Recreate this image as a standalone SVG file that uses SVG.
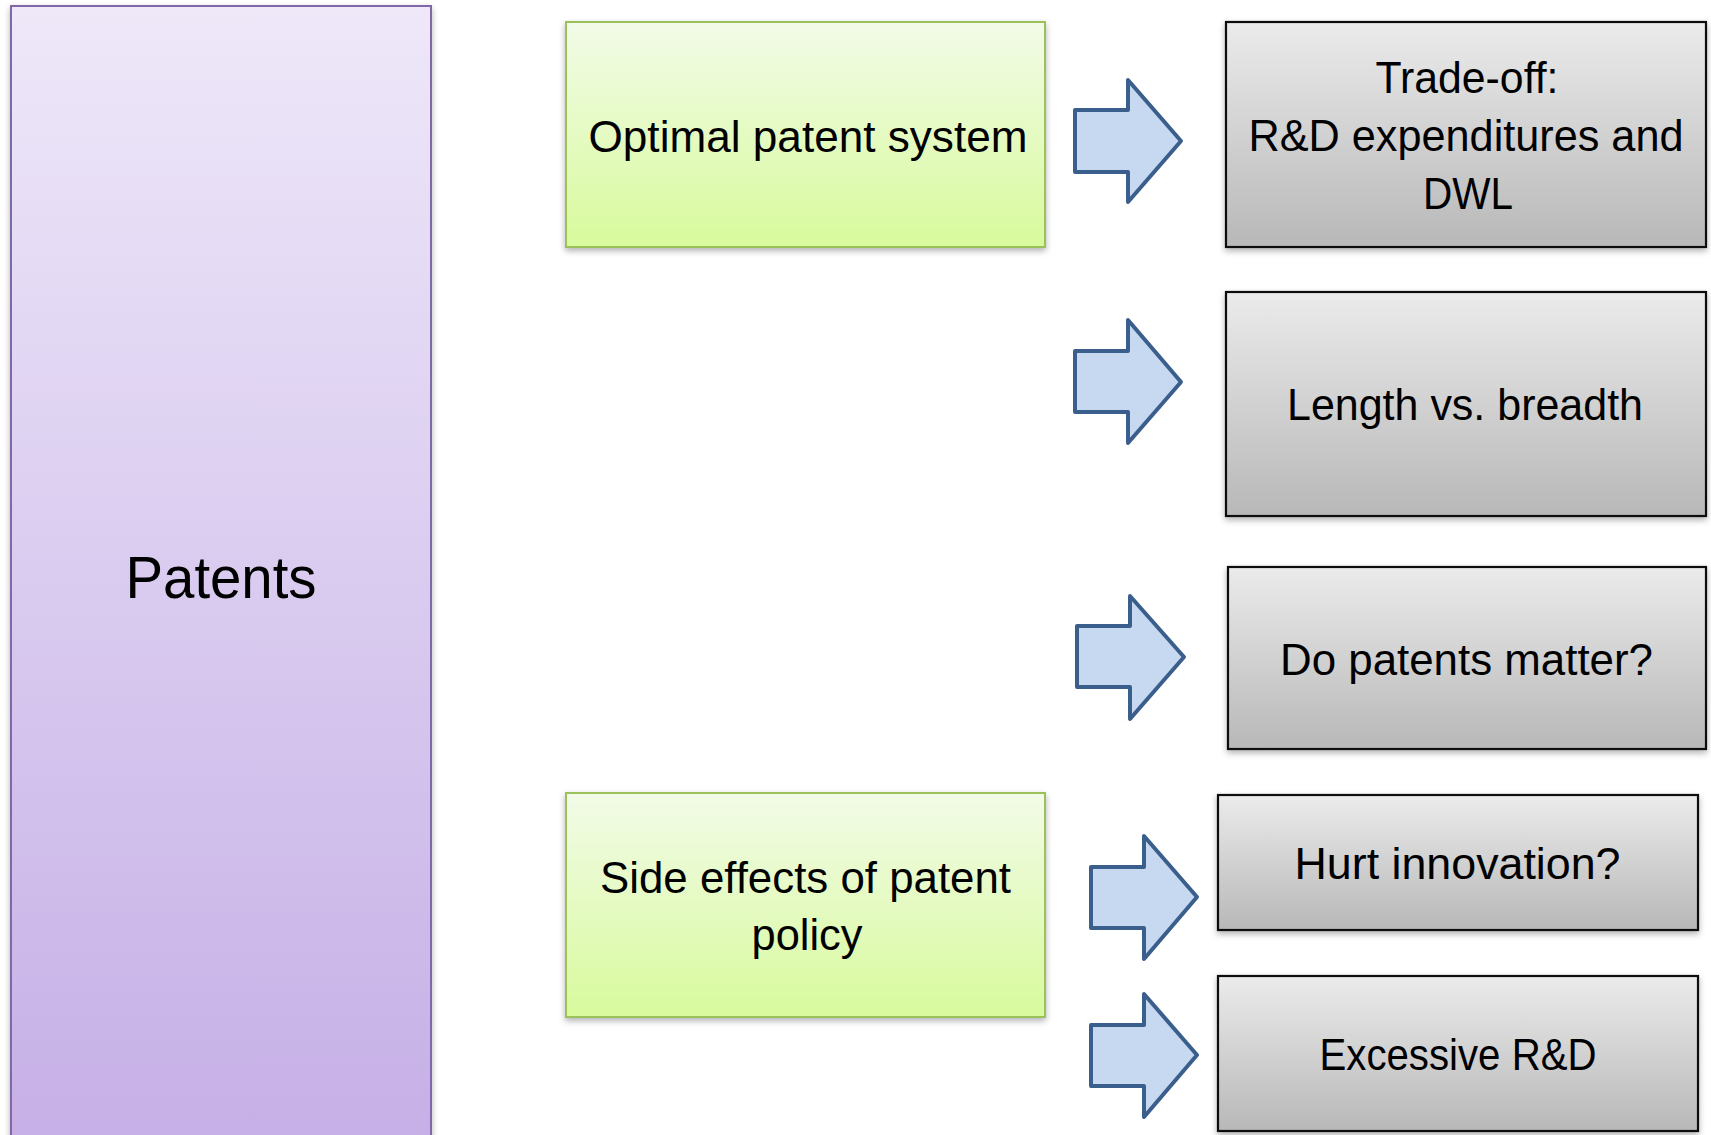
<svg xmlns="http://www.w3.org/2000/svg" width="1711" height="1135" viewBox="0 0 1711 1135">
<style>
text{font-family:"Liberation Sans",Arial,sans-serif;fill:#000;text-anchor:middle}
.t{font-size:45px}
.green{fill:url(#gG);stroke:#9BC25A;stroke-width:2}
.gray{fill:url(#gK);stroke:#111;stroke-width:2.2}
.arrow{fill:#C6D9F1;stroke:#3B5F8C;stroke-width:4;stroke-linejoin:round}
</style>
<defs>
<linearGradient id="gP" x1="0" y1="0" x2="0" y2="1"><stop offset="0" stop-color="#EEE8F9"/><stop offset="1" stop-color="#C5AEE6"/></linearGradient>
<linearGradient id="gG" x1="0" y1="0" x2="0" y2="1"><stop offset="0" stop-color="#F2FBE8"/><stop offset="1" stop-color="#D8FA9C"/></linearGradient>
<linearGradient id="gK" x1="0" y1="0" x2="0" y2="1"><stop offset="0" stop-color="#EBEBEB"/><stop offset="1" stop-color="#B8B8B8"/></linearGradient>
<filter id="sh" x="-5%" y="-5%" width="110%" height="115%"><feDropShadow dx="0" dy="3" stdDeviation="3" flood-color="#000" flood-opacity="0.3"/></filter>
</defs>
<rect width="1711" height="1135" fill="#fff"/>
<g id="patents">
<rect x="11" y="6" width="420" height="1160" fill="url(#gP)" stroke="#7E68A8" stroke-width="2" filter="url(#sh)"/>
<text x="221" y="598" font-size="59" textLength="191" lengthAdjust="spacingAndGlyphs">Patents</text>
</g>
<g id="optimal">
<rect class="green" x="566" y="22" width="479" height="225" filter="url(#sh)"/>
<text class="t" x="808" y="152" textLength="439" lengthAdjust="spacingAndGlyphs">Optimal patent system</text>
</g>
<g id="side-effects">
<rect class="green" x="566" y="793" width="479" height="224" filter="url(#sh)"/>
<text class="t" x="805.5" y="893" textLength="411" lengthAdjust="spacingAndGlyphs">Side effects of patent</text>
<text class="t" x="807" y="950" textLength="111" lengthAdjust="spacingAndGlyphs">policy</text>
</g>
<g id="tradeoff">
<rect class="gray" x="1226" y="22" width="480" height="225" filter="url(#sh)"/>
<text class="t" x="1467" y="93" textLength="183" lengthAdjust="spacingAndGlyphs">Trade-off:</text>
<text class="t" x="1466" y="151" textLength="435" lengthAdjust="spacingAndGlyphs">R&amp;D expenditures and</text>
<text class="t" x="1468" y="209" textLength="90" lengthAdjust="spacingAndGlyphs">DWL</text>
</g>
<g id="length">
<rect class="gray" x="1226" y="292" width="480" height="224" filter="url(#sh)"/>
<text class="t" x="1465" y="420" textLength="356" lengthAdjust="spacingAndGlyphs">Length vs. breadth</text>
</g>
<g id="matter">
<rect class="gray" x="1228" y="567" width="478" height="182" filter="url(#sh)"/>
<text class="t" x="1466.5" y="675" textLength="373" lengthAdjust="spacingAndGlyphs">Do patents matter?</text>
</g>
<g id="hurt">
<rect class="gray" x="1218" y="795" width="480" height="135" filter="url(#sh)"/>
<text class="t" x="1457.5" y="879" textLength="326" lengthAdjust="spacingAndGlyphs">Hurt innovation?</text>
</g>
<g id="excessive">
<rect class="gray" x="1218" y="976" width="480" height="155" filter="url(#sh)"/>
<text class="t" x="1458" y="1070" textLength="277" lengthAdjust="spacingAndGlyphs">Excessive R&amp;D</text>
</g>
<g id="connectors">
<path class="arrow" d="M1075,110 H1128 V80 L1181,141 L1128,202 V172 H1075 Z"/>
<path class="arrow" d="M1075,351 H1128 V320 L1181,382 L1128,443 V412 H1075 Z"/>
<path class="arrow" d="M1077,626 H1130 V596 L1184,657 L1130,719 V687 H1077 Z"/>
<path class="arrow" d="M1091,867 H1144 V836 L1197,897 L1144,959 V928 H1091 Z"/>
<path class="arrow" d="M1091,1025 H1144 V994 L1197,1055 L1144,1117 V1086 H1091 Z"/>
</g>
</svg>
